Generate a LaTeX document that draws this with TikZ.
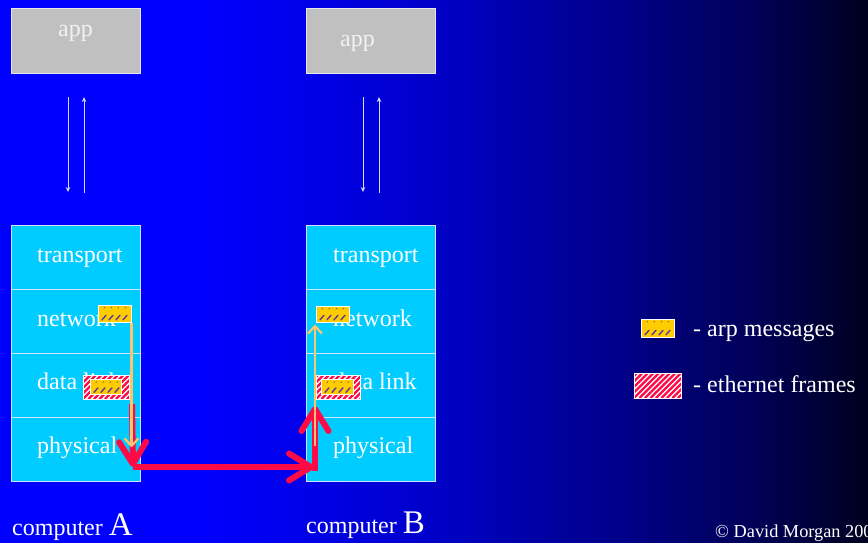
\documentclass[tikz,border=0pt]{standalone}
\usepackage{fontspec}
\setmainfont{Liberation Serif}
\usetikzlibrary{arrows.meta}

\definecolor{cellcyan}{HTML}{00CCFF}
\definecolor{celledge}{HTML}{D4E2FF}
\definecolor{appgray}{HTML}{C0C0C0}
\definecolor{appedge}{HTML}{E6E6EE}
\definecolor{appwhite}{HTML}{F2F2F2}
\definecolor{arpgold}{HTML}{FFCC00}
\definecolor{arpdash}{HTML}{5A3C9C}
\definecolor{ethred}{HTML}{FF0A46}
\definecolor{arpline}{HTML}{FFC46C}
\definecolor{callline}{HTML}{D6D6FF}

% slide background: bright blue on the left fading to near black on the right
% (TikZ maps 25bp..75bp of the shading onto the width of the filled path)
\pgfdeclarehorizontalshading{slidebg}{100bp}{%
  rgb(0bp)=(0,0,1); rgb(25bp)=(0,0,1); rgb(36.5bp)=(0,0,1);
  rgb(42.3bp)=(0,0,0.92); rgb(50.3bp)=(0,0,0.78); rgb(56.1bp)=(0,0,0.64);
  rgb(60.7bp)=(0,0,0.54); rgb(68.8bp)=(0,0,0.33); rgb(75bp)=(0,0,0.12);
  rgb(100bp)=(0,0,0.12)}

\begin{document}
\begin{tikzpicture}[x=1pt,y=-1pt,
  appbox/.style={draw=appedge, line width=1.2pt, fill=appgray,
    minimum width=129pt, minimum height=65pt, anchor=north west, inner sep=0pt},
  cell/.style={draw=celledge, line width=1.4pt, fill=cellcyan,
    minimum width=129pt, minimum height=64pt, anchor=north west, inner sep=0pt},
  lbl/.style={text=white, font=\fontsize{24}{28}\selectfont,
    anchor=base west, inner sep=0pt},
  arpmsg/.style={draw=white, line width=1pt, fill=arpgold, inner sep=0pt,
    path picture={
      \foreach \k in {0,...,3}{
        \draw[arpdash, line width=1.4pt, line cap=round]
          ([xshift={4pt+\k*7pt}, yshift=2.2pt]path picture bounding box.south west)
          -- ++(4pt,4.5pt);
        \draw[arpdash!70!arpgold, line width=0.9pt, line cap=round]
          ([xshift={6pt+\k*7pt}, yshift=-3pt]path picture bounding box.north west)
          -- ++(0.8pt,0.8pt);
      }}},
  ethframe/.style={draw=white, line width=1pt, fill=white, inner sep=0pt,
    path picture={
      \foreach \k in {-7,...,11}
        \draw[ethred, line width=2.3pt]
          ([xshift={\k*5.5pt}]path picture bounding box.south west)
          -- ++(45pt,45pt);}},
  callarrow/.style={draw=callline, line width=1pt,
    -{Stealth[length=5pt,width=4.5pt]}},
  framearrow/.style={draw=ethred, line width=6pt,
    -{Straight Barb[length=22pt,width=27pt,round]}},
  arparrow/.style={draw=arpline, line width=2.2pt,
    -{Straight Barb[length=7pt,width=13pt,round]}}
]
\useasboundingbox (0,0) rectangle (868,542);
\shade[shading=slidebg] (0,0) rectangle (868,542);

% application boxes
\node[appbox] (appA) at (11,8) {};
\node[lbl, text=appwhite] (appA-t) at (58,36) {app};
\node[appbox] (appB) at (306,8) {};
\node[lbl, text=appwhite] (appB-t) at (340,46) {app};

% calls between application and transport
\coordinate (a-dn-s) at (68,97);  \coordinate (a-dn-e) at (68,192);
\coordinate (a-up-s) at (84,193); \coordinate (a-up-e) at (84,97);
\coordinate (b-dn-s) at (363,97);  \coordinate (b-dn-e) at (363,192);
\coordinate (b-up-s) at (379,193); \coordinate (b-up-e) at (379,97);
\draw[callarrow] (a-dn-s) -- (a-dn-e);
\draw[callarrow] (a-up-s) -- (a-up-e);
\draw[callarrow] (b-dn-s) -- (b-dn-e);
\draw[callarrow] (b-up-s) -- (b-up-e);

% protocol stack of computer A
\node[cell] (a-trans) at (11,225) {};
\node[cell] (a-net)   at (11,289) {};
\node[cell] (a-dl)    at (11,353) {};
\node[cell] (a-phy)   at (11,417) {};
\node[lbl] (a-trans-t) at (37,262) {transport};
\node[lbl] (a-net-t)   at (37,326) {network};
\node[lbl] (a-dl-t)    at (37,389) {data link};
\node[lbl] (a-phy-t)   at (37,453) {physical};

% protocol stack of computer B
\node[cell] (b-trans) at (306,225) {};
\node[cell] (b-net)   at (306,289) {};
\node[cell] (b-dl)    at (306,353) {};
\node[cell] (b-phy)   at (306,417) {};
\node[lbl] (b-trans-t) at (333,262) {transport};
\node[lbl] (b-net-t)   at (333,326) {network};
\node[lbl] (b-dl-t)    at (333,389) {data link};
\node[lbl] (b-phy-t)   at (333,453) {physical};

% arp messages and the frames carrying them
\node[arpmsg, minimum width=33pt, minimum height=17pt] (a-arp) at (114.5,313.5) {};
\node[ethframe, minimum width=46pt, minimum height=24pt] (a-frame) at (106,387) {};
\node[arpmsg, minimum width=31pt, minimum height=15pt] (a-frame-arp) at (105.5,387) {};
\node[arpmsg, minimum width=33pt, minimum height=16pt] (b-arp) at (332.5,314) {};
\node[ethframe, minimum width=44pt, minimum height=24pt] (b-frame) at (338,387) {};
\node[arpmsg, minimum width=32pt, minimum height=15pt] (b-frame-arp) at (337,387) {};

% ethernet frame travelling over the wire
\coordinate (rA1) at (132,404);
\coordinate (rA2) at (133,467);
\coordinate (rB2) at (314,467);
\coordinate (rB3) at (315,471);
\coordinate (rB1) at (315,406);
\draw[framearrow] (rA1) -- (rA2);
\draw[framearrow] (rA2) -- (rB2);
\draw[framearrow] (rB3) -- (rB1);

% arp message passing down and up the stacks
\coordinate (oA1) at (131.5,323);
\coordinate (oA2) at (131.5,447);
\coordinate (oB1) at (315,446);
\coordinate (oB2) at (315,325);
\draw[arparrow] (oA1) -- (oA2);
\draw[arparrow] (oB1) -- (oB2);

% legend
\node[arpmsg, minimum width=33pt, minimum height=18pt] (key-arp) at (657.5,328) {};
\node[lbl] (key-arp-t) at (693,336) {- arp messages};
\node[ethframe, minimum width=47pt, minimum height=25pt] (key-eth) at (657.5,385.5) {};
\node[lbl] (key-eth-t) at (693,392) {- ethernet frames};

% captions
\node[lbl] (capA) at (12,535) {computer {\fontsize{33}{36}\selectfont A}};
\node[lbl] (capB) at (306,533) {computer {\fontsize{33}{36}\selectfont B}};
\begin{scope}
  \clip (0,0) rectangle (868,542);
  \node[anchor=base west, text=white, inner sep=0pt,
    font=\fontsize{18.3}{22}\selectfont] (copy) at (715,537) {© David Morgan 2003};
\end{scope}
\end{tikzpicture}
\end{document}
